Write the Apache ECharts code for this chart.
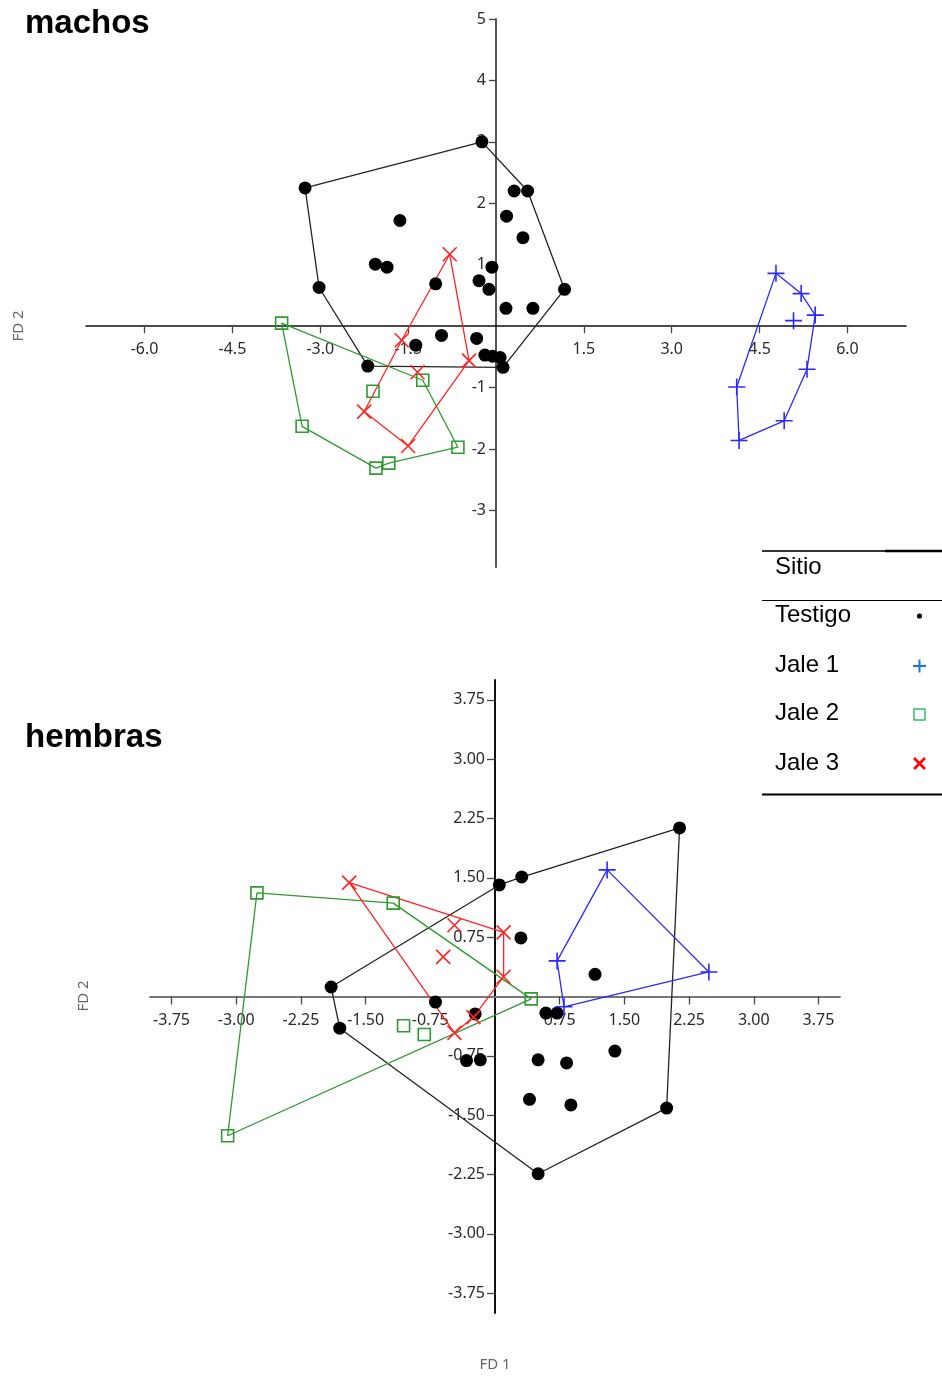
<!DOCTYPE html>
<html>
<head>
<meta charset="utf-8">
<script src="https://cdn.jsdelivr.net/npm/echarts@6/dist/echarts.min.js"></script>
<style>
html,body{margin:0;padding:0;background:#fff;}
#chart{width:942px;height:1376px;}
</style>
</head>
<body>
<div id="chart"></div>
<script>
// ---------- DATA ----------
// machos (males)
const machosTestigo = [
  [-0.24,3.00],[-3.26,2.25],[0.31,2.20],[0.54,2.20],[0.18,1.79],[-1.64,1.72],[0.46,1.44],
  [-2.06,1.01],[-1.86,0.96],[-0.07,0.96],[-1.03,0.69],[-0.29,0.74],[-0.12,0.60],[-3.02,0.63],
  [1.17,0.60],[0.17,0.29],[0.63,0.29],[-0.93,-0.15],[-0.33,-0.20],[-1.37,-0.31],[-0.19,-0.47],
  [-0.06,-0.49],[0.07,-0.51],[0.12,-0.67],[-2.19,-0.65]
];
const machosTestigoHull = [0,3,14,23,24,13,1];
const machosJale1 = [[4.78,0.86],[5.21,0.53],[5.45,0.18],[5.08,0.09],[5.31,-0.70],[4.92,-1.54],[4.15,-1.86],[4.11,-0.99]];
const machosJale1Hull = [0,1,2,4,5,6,7];
const machosJale2 = [[-3.66,0.05],[-3.31,-1.63],[-2.05,-2.31],[-1.83,-2.23],[-0.65,-1.97],[-1.25,-0.88],[-2.10,-1.06]];
const machosJale2Hull = [0,1,2,3,4,5];
const machosJale3 = [[-0.79,1.17],[-0.46,-0.56],[-1.50,-1.95],[-2.25,-1.39],[-1.61,-0.23],[-1.34,-0.75]];
const machosJale3Hull = [0,1,2,3,4];

// hembras (females)
const hembrasTestigo = [
  [2.14,2.13],[0.31,1.51],[0.05,1.41],[0.30,0.74],[1.16,0.28],[-1.90,0.12],[-1.80,-0.40],
  [-0.69,-0.07],[-0.23,-0.22],[0.59,-0.21],[0.72,-0.21],[-0.33,-0.81],[-0.17,-0.80],[0.50,-0.80],
  [0.83,-0.84],[1.39,-0.69],[0.40,-1.30],[0.88,-1.37],[1.99,-1.41],[0.50,-2.24]
];
const hembrasTestigoHull = [0,18,19,6,5,2,1];
const hembrasJale1 = [[1.30,1.60],[2.48,0.31],[0.80,-0.13],[0.72,0.45]];
const hembrasJale1Hull = [0,1,2,3];
const hembrasJale2 = [[-2.76,1.31],[-1.18,1.18],[0.42,-0.03],[-3.10,-1.76],[-1.06,-0.37],[-0.82,-0.48]];
const hembrasJale2Hull = [0,1,2,3];
const hembrasJale3 = [[-1.69,1.44],[0.10,0.81],[0.10,0.25],[-0.25,-0.26],[-0.47,-0.46],[-0.47,0.90],[-0.60,0.50]];
const hembrasJale3Hull = [0,1,2,3,4];

// axis ranges and tick labels
const machosXRange = [-7, 7];
const machosYRange = [-3.92, 5];
const hembrasRange = [-4, 4];
const machosXTicks = [-6,-4.5,-3,-1.5,1.5,3,4.5,6];
const machosYTicks = [-3,-2,-1,1,2,3,4,5];
const hembrasTicks = [-3.75,-3,-2.25,-1.5,-0.75,0.75,1.5,2.25,3,3.75];

const groupNames = ['Testigo','Jale 1','Jale 2','Jale 3'];
const titles = ['machos','hembras'];
const axisNames = ['FD 1','FD 2'];

// ---------- STYLE / LAYOUT ----------
const GRID_M = {left:86, top:19, width:820, height:548};
const GRID_H = {left:150, top:680, width:690, height:633};
const COL = {testigo:'#000000', jale1:'#2a2aff', jale2:'#2f9a2f', jale3:'#ff2424'};
const PLUS = 'path://M0,5L10,5M5,0L5,10';
const CROSS = 'path://M0,0L10,10M10,0L0,10';
const FONT = '"Noto Sans", "Open Sans", sans-serif';

function hullData(pts, idx){ const d = idx.map(i=>pts[i]); d.push(pts[idx[0]]); return d; }
// distance from the grid edge to the zero line, so the axis sits on the origin
function zeroOffsetX(grid, yr){ return -grid.height * (0 - yr[0]) / (yr[1] - yr[0]); }
function zeroOffsetY(grid, xr){ return -grid.width * (0 - xr[0]) / (xr[1] - xr[0]); }

function groupSeries(ai, pts, hull, kind){
  const out = [];
  const color = COL[kind];
  out.push({
    type:'line', xAxisIndex:ai, yAxisIndex:ai, data:hullData(pts,hull),
    symbol:'none', silent:true, z:2,
    lineStyle:{color: kind==='testigo' ? '#222' : color, width:1.3}
  });
  let sc = {type:'scatter', xAxisIndex:ai, yAxisIndex:ai, data:pts, z:3};
  if(kind==='testigo'){ sc.symbol='circle'; sc.symbolSize=13; sc.itemStyle={color:'#000', opacity:1}; }
  if(kind==='jale1'){ sc.symbol=PLUS; sc.symbolSize=17; sc.itemStyle={color:'none', borderColor:color, borderWidth:1.6, opacity:1}; }
  if(kind==='jale2'){ sc.symbol='rect'; sc.symbolSize=12; sc.itemStyle={color:'rgba(0,0,0,0)', borderColor:color, borderWidth:1.6, opacity:1}; }
  if(kind==='jale3'){ sc.symbol=CROSS; sc.symbolSize=14; sc.itemStyle={color:'none', borderColor:color, borderWidth:1.6, opacity:1}; }
  out.push(sc);
  return out;
}

function axis(gridIndex, range, ticks, offset, lineColor, lineWidth, tickLen, margin, digits){
  return {
    type:'value', gridIndex, min:range[0], max:range[1], offset,
    splitLine:{show:false},
    axisLine:{show:true, onZero:false, lineStyle:{color:lineColor, width:lineWidth}},
    axisTick:{show:true, length:tickLen, customValues:ticks, lineStyle:{color:'#444', width:1.3}},
    axisLabel:{show:true, color:'#2a2a2a', fontSize:16, fontFamily:FONT, margin, customValues:ticks,
      formatter:v=>digits===null ? String(v) : Number(v).toFixed(digits)}
  };
}

const chart = echarts.init(document.getElementById('chart'), null, {renderer:'canvas'});

const option = {
  animation:false,
  backgroundColor:'#fff',
  grid:[GRID_M, GRID_H],
  xAxis:[
    axis(0, machosXRange, machosXTicks, zeroOffsetX(GRID_M, machosYRange), '#111', 1.5, 7, 15, 1),
    axis(1, hembrasRange, hembrasTicks, zeroOffsetX(GRID_H, hembrasRange), '#777', 2, 8, 16, 2)
  ],
  yAxis:[
    axis(0, machosYRange, machosYTicks, zeroOffsetY(GRID_M, machosXRange), '#555', 2, 7, 10, null),
    axis(1, hembrasRange, hembrasTicks, zeroOffsetY(GRID_H, hembrasRange), '#111', 2, 8, 10, 2)
  ],
  series:[].concat(
    groupSeries(0, machosTestigo, machosTestigoHull, 'testigo'),
    groupSeries(0, machosJale1, machosJale1Hull, 'jale1'),
    groupSeries(0, machosJale2, machosJale2Hull, 'jale2'),
    groupSeries(0, machosJale3, machosJale3Hull, 'jale3'),
    groupSeries(1, hembrasTestigo, hembrasTestigoHull, 'testigo'),
    groupSeries(1, hembrasJale1, hembrasJale1Hull, 'jale1'),
    groupSeries(1, hembrasJale2, hembrasJale2Hull, 'jale2'),
    groupSeries(1, hembrasJale3, hembrasJale3Hull, 'jale3')
  ),
  graphic:[
    // titles
    {type:'text', left:25, top:7, style:{text:titles[0], font:'bold 33px "Liberation Sans", Arial, sans-serif', fill:'#000'}},
    {type:'text', left:25, top:721, style:{text:titles[1], font:'bold 33px "Liberation Sans", Arial, sans-serif', fill:'#000'}},
    // axis names
    {type:'text', x:19, y:326, rotation:Math.PI/2, style:{text:axisNames[1], font:'15px '+FONT, fill:'#666', align:'center', verticalAlign:'middle'}},
    {type:'text', x:84, y:996, rotation:Math.PI/2, style:{text:axisNames[1], font:'15px '+FONT, fill:'#666', align:'center', verticalAlign:'middle'}},
    {type:'text', x:495, y:1365, style:{text:axisNames[0], font:'15px '+FONT, fill:'#666', align:'center', verticalAlign:'middle'}},
    // legend table
    {type:'line', shape:{x1:762,y1:551,x2:885,y2:551}, style:{stroke:'#333', lineWidth:2}},
    {type:'line', shape:{x1:885,y1:551,x2:942,y2:551}, style:{stroke:'#000', lineWidth:2.5}},
    {type:'line', shape:{x1:762,y1:600.5,x2:942,y2:600.5}, style:{stroke:'#000', lineWidth:1}},
    {type:'line', shape:{x1:762,y1:794.5,x2:942,y2:794.5}, style:{stroke:'#000', lineWidth:2}},
    {type:'text', x:775, y:567, style:{text:'Sitio', font:'24px "Liberation Sans", Arial, sans-serif', fill:'#000', verticalAlign:'middle'}},
    {type:'text', x:775, y:615, style:{text:groupNames[0], font:'24px "Liberation Sans", Arial, sans-serif', fill:'#000', verticalAlign:'middle'}},
    {type:'text', x:775, y:665, style:{text:groupNames[1], font:'24px "Liberation Sans", Arial, sans-serif', fill:'#000', verticalAlign:'middle'}},
    {type:'text', x:775, y:713, style:{text:groupNames[2], font:'24px "Liberation Sans", Arial, sans-serif', fill:'#000', verticalAlign:'middle'}},
    {type:'text', x:775, y:763, style:{text:groupNames[3], font:'24px "Liberation Sans", Arial, sans-serif', fill:'#000', verticalAlign:'middle'}},
    {type:'circle', shape:{cx:919.5, cy:616, r:2.6}, style:{fill:'#000'}},
    {type:'line', shape:{x1:913,y1:666,x2:926,y2:666}, style:{stroke:'#1f74cc', lineWidth:2}},
    {type:'line', shape:{x1:919.5,y1:659.5,x2:919.5,y2:672.5}, style:{stroke:'#1f74cc', lineWidth:2}},
    {type:'rect', shape:{x:914, y:709, width:11, height:11}, style:{fill:'none', stroke:'#3cb96a', lineWidth:1.5}},
    {type:'line', shape:{x1:914,y1:758,x2:925,y2:769}, style:{stroke:'#ff0000', lineWidth:2.6}},
    {type:'line', shape:{x1:925,y1:758,x2:914,y2:769}, style:{stroke:'#ff0000', lineWidth:2.6}}
  ]
};
chart.setOption(option);
</script>
</body>
</html>
